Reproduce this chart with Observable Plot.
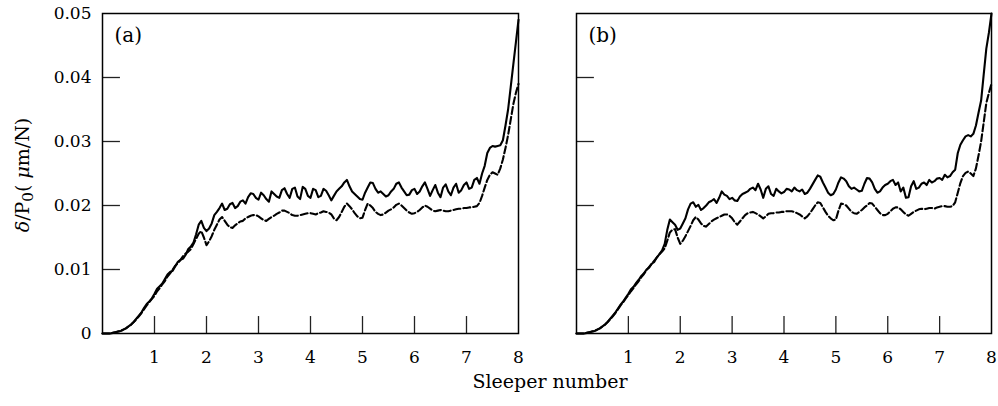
<!DOCTYPE html>
<html><head><meta charset="utf-8">
<script src="https://cdn.jsdelivr.net/npm/d3@7"></script>
<script src="https://cdn.jsdelivr.net/npm/@observablehq/plot@0.6"></script>
<style>
body{margin:0;background:#fff;}
#wrap{position:relative;width:998px;height:406px;font-family:"DejaVu Serif",serif;color:#000;overflow:hidden}
#left{position:absolute;left:0;top:0}
#right{position:absolute;left:540px;top:0}
#xlab{position:absolute;left:450px;width:200px;top:370px;text-align:center;font-size:19px;white-space:nowrap}
#ylab{position:absolute;left:-78px;width:200px;top:163px;line-height:24px;text-align:center;font-size:19px;transform:rotate(-90deg);white-space:nowrap}
#ylab sub{font-size:0.8em;vertical-align:-0.25em;line-height:0}
</style>
</head><body>
<div id="wrap">
  <div id="left"></div>
  <div id="right"></div>
  <div id="ylab"><i>δ</i>/P<sub>0</sub>( <i>μ</i>m/N)</div>
  <div id="xlab">Sleeper number</div>
</div>
<script>
const sleeper = [
  0,0.05,0.1,0.15,0.2,0.25,0.3,0.35,0.4,0.45,
  0.5,0.55,0.6,0.65,0.7,0.75,0.8,0.85,0.9,0.95,
  1,1.05,1.1,1.15,1.2,1.25,1.3,1.35,1.4,1.45,
  1.5,1.55,1.6,1.65,1.7,1.75,1.8,1.85,1.9,1.95,
  2,2.05,2.1,2.15,2.2,2.25,2.3,2.35,2.4,2.45,
  2.5,2.55,2.6,2.65,2.7,2.75,2.8,2.85,2.9,2.95,
  3,3.05,3.1,3.15,3.2,3.25,3.3,3.35,3.4,3.45,
  3.5,3.55,3.6,3.65,3.7,3.75,3.8,3.85,3.9,3.95,
  4,4.05,4.1,4.15,4.2,4.25,4.3,4.35,4.4,4.45,
  4.5,4.55,4.6,4.65,4.7,4.75,4.8,4.85,4.9,4.95,
  5,5.05,5.1,5.15,5.2,5.25,5.3,5.35,5.4,5.45,
  5.5,5.55,5.6,5.65,5.7,5.75,5.8,5.85,5.9,5.95,
  6,6.05,6.1,6.15,6.2,6.25,6.3,6.35,6.4,6.45,
  6.5,6.55,6.6,6.65,6.7,6.75,6.8,6.85,6.9,6.95,
  7,7.05,7.1,7.15,7.2,7.25,7.3,7.35,7.4,7.45,
  7.5,7.55,7.6,7.65,7.7,7.75,7.8,7.85,7.9,7.95,
  8];

const aSolid = [
  0,0,0,0,0.0001,0.0002,0.0003,0.0004,0.0006,0.0008,
  0.0011,0.0014,0.0018,0.0023,0.0028,0.0033,0.0040,0.0046,0.0050,0.0055,
  0.0062,0.0070,0.0074,0.0078,0.0085,0.0092,0.0096,0.0098,0.0105,0.0112,
  0.0115,0.0117,0.0123,0.0132,0.0136,0.0142,0.0155,0.0170,0.0176,0.0165,
  0.0160,0.0164,0.0172,0.0185,0.0190,0.0196,0.0203,0.0193,0.0195,0.0202,
  0.0204,0.0196,0.0199,0.0206,0.0208,0.0203,0.0213,0.0219,0.0218,0.0212,
  0.0209,0.0220,0.0216,0.0210,0.0206,0.0222,0.0218,0.0214,0.0212,0.0224,
  0.0227,0.0218,0.0212,0.0226,0.0228,0.0214,0.0210,0.0229,0.0226,0.0215,
  0.0212,0.0226,0.0224,0.0213,0.0215,0.0226,0.0223,0.0216,0.0208,0.0215,
  0.0222,0.0226,0.0230,0.0236,0.0240,0.0230,0.0222,0.0218,0.0214,0.0210,
  0.0209,0.0220,0.0228,0.0236,0.0235,0.0226,0.0220,0.0222,0.0218,0.0214,
  0.0216,0.0222,0.0226,0.0234,0.0236,0.0228,0.0222,0.0216,0.0217,0.0224,
  0.0226,0.0218,0.0222,0.0230,0.0236,0.0226,0.0215,0.0224,0.0232,0.0220,
  0.0213,0.0228,0.0233,0.0222,0.0216,0.0228,0.0234,0.0220,0.0224,0.0232,
  0.0236,0.0226,0.0228,0.0240,0.0243,0.0234,0.0250,0.0262,0.0282,0.0290,
  0.0293,0.0292,0.0293,0.0294,0.0302,0.0325,0.0350,0.0385,0.0420,0.0455,
  0.0490];

const aDashed = [
  0,0,0,0,0.0001,0.0002,0.0003,0.0004,0.0006,0.0008,
  0.0011,0.0014,0.0018,0.0022,0.0027,0.0032,0.0038,0.0044,0.0049,0.0054,
  0.0059,0.0066,0.0071,0.0077,0.0082,0.0089,0.0094,0.0100,0.0106,0.0110,
  0.0115,0.0121,0.0125,0.0128,0.0132,0.0140,0.0148,0.0156,0.0160,0.0150,
  0.0138,0.0144,0.0152,0.0162,0.0170,0.0178,0.0182,0.0176,0.0170,0.0166,
  0.0165,0.0169,0.0172,0.0175,0.0176,0.0180,0.0182,0.0184,0.0185,0.0185,
  0.0183,0.0180,0.0177,0.0176,0.0179,0.0182,0.0184,0.0187,0.0189,0.0192,
  0.0192,0.0190,0.0188,0.0185,0.0184,0.0184,0.0185,0.0186,0.0187,0.0188,
  0.0188,0.0187,0.0186,0.0188,0.0189,0.0191,0.0190,0.0189,0.0186,0.0180,
  0.0177,0.0182,0.0190,0.0198,0.0203,0.0199,0.0194,0.0188,0.0183,0.0180,
  0.0181,0.0193,0.0203,0.0200,0.0196,0.0190,0.0187,0.0185,0.0186,0.0189,
  0.0192,0.0194,0.0197,0.0201,0.0203,0.0200,0.0196,0.0192,0.0189,0.0187,
  0.0188,0.0190,0.0193,0.0197,0.0200,0.0198,0.0195,0.0192,0.0191,0.0192,
  0.0193,0.0192,0.0191,0.0191,0.0192,0.0193,0.0194,0.0195,0.0195,0.0196,
  0.0196,0.0197,0.0197,0.0198,0.0199,0.0204,0.0215,0.0228,0.0240,0.0248,
  0.0252,0.0250,0.0248,0.0258,0.0272,0.0290,0.0310,0.0334,0.0358,0.0376,
  0.0390];

const bSolid = [
  0,0,0,0,0.0001,0.0002,0.0003,0.0004,0.0006,0.0008,
  0.0011,0.0014,0.0018,0.0023,0.0028,0.0033,0.0039,0.0045,0.0050,0.0056,
  0.0062,0.0069,0.0073,0.0079,0.0084,0.0090,0.0094,0.0100,0.0103,0.0109,
  0.0112,0.0119,0.0124,0.0130,0.0140,0.0162,0.0178,0.0174,0.0170,0.0162,
  0.0164,0.0172,0.0180,0.0194,0.0203,0.0205,0.0198,0.0201,0.0193,0.0196,
  0.0200,0.0205,0.0207,0.0210,0.0204,0.0212,0.0222,0.0217,0.0215,0.0210,
  0.0212,0.0208,0.0207,0.0214,0.0218,0.0220,0.0222,0.0226,0.0228,0.0224,
  0.0234,0.0225,0.0212,0.0226,0.0230,0.0218,0.0215,0.0226,0.0222,0.0219,
  0.0221,0.0226,0.0225,0.0222,0.0228,0.0224,0.0222,0.0225,0.0218,0.0220,
  0.0226,0.0233,0.0240,0.0247,0.0245,0.0236,0.0228,0.0220,0.0216,0.0218,
  0.0225,0.0236,0.0244,0.0242,0.0238,0.0230,0.0226,0.0228,0.0225,0.0222,
  0.0223,0.0234,0.0243,0.0242,0.0236,0.0226,0.0220,0.0222,0.0228,0.0232,
  0.0234,0.0238,0.0240,0.0232,0.0236,0.0222,0.0228,0.0212,0.0213,0.0230,
  0.0238,0.0226,0.0228,0.0234,0.0236,0.0232,0.0240,0.0236,0.0238,0.0242,
  0.0243,0.0240,0.0248,0.0244,0.0246,0.0252,0.0256,0.0282,0.0295,0.0302,
  0.0308,0.0310,0.0308,0.0312,0.0325,0.0345,0.0364,0.0405,0.0445,0.0470,
  0.0500];

const bDashed = [
  0,0,0,0,0.0001,0.0002,0.0003,0.0004,0.0006,0.0008,
  0.0011,0.0014,0.0018,0.0022,0.0027,0.0032,0.0038,0.0044,0.0049,0.0055,
  0.0060,0.0066,0.0071,0.0077,0.0082,0.0088,0.0093,0.0099,0.0104,0.0109,
  0.0114,0.0119,0.0124,0.0128,0.0133,0.0145,0.0158,0.0162,0.0163,0.0150,
  0.0140,0.0145,0.0152,0.0160,0.0168,0.0177,0.0182,0.0178,0.0172,0.0168,
  0.0167,0.0171,0.0175,0.0178,0.0180,0.0182,0.0184,0.0186,0.0186,0.0184,
  0.0180,0.0174,0.0170,0.0175,0.0180,0.0185,0.0188,0.0189,0.0190,0.0188,
  0.0186,0.0183,0.0180,0.0183,0.0187,0.0188,0.0188,0.0189,0.0189,0.0190,
  0.0190,0.0191,0.0191,0.0191,0.0190,0.0188,0.0186,0.0183,0.0180,0.0183,
  0.0188,0.0194,0.0200,0.0205,0.0204,0.0197,0.0190,0.0184,0.0180,0.0177,
  0.0178,0.0192,0.0203,0.0202,0.0200,0.0195,0.0190,0.0188,0.0187,0.0190,
  0.0193,0.0197,0.0200,0.0204,0.0203,0.0198,0.0193,0.0188,0.0185,0.0185,
  0.0187,0.0191,0.0195,0.0197,0.0197,0.0194,0.0190,0.0186,0.0184,0.0187,
  0.0190,0.0192,0.0194,0.0195,0.0194,0.0195,0.0196,0.0196,0.0195,0.0197,
  0.0198,0.0199,0.0199,0.0198,0.0198,0.0199,0.0205,0.0220,0.0235,0.0246,
  0.0251,0.0253,0.0250,0.0246,0.0258,0.0278,0.0300,0.0330,0.0360,0.0376,
  0.0390];

const xTicks = [1,2,3,4,5,6,7,8];
const yTicks = [0,0.01,0.02,0.03,0.04,0.05];
const yTickLabels = ["0","0.01","0.02","0.03","0.04","0.05"];

function panel(solid, dashed, label, showY, marginLeft, width, marginRight) {
  const data = sleeper.map((x, i) => ({x, s: solid[i], d: dashed[i]}));
  const marks = [
    Plot.ruleY(yTicks.slice(1, 5), {y: d => d, x1: 0, x2: 0.345, stroke: "#222", strokeWidth: 1.3}),
    Plot.ruleX(xTicks.slice(0, 7), {x: d => d, y1: 0, y2: 0.00265, stroke: "#222", strokeWidth: 1.3}),
    Plot.line(data, {x: "x", y: "d", stroke: "black", strokeWidth: 2.1, strokeDasharray: "7,3"}),
    Plot.line(data, {x: "x", y: "s", stroke: "black", strokeWidth: 2.1}),
    Plot.frame({stroke: "black", strokeWidth: 1.5}),
    Plot.text(xTicks, {x: d => d, y: 0, dy: 24, text: d => String(d), fontSize: 17, fill: "black"}),
    Plot.text([label], {frameAnchor: "top-left", dx: 12, dy: 14, fontSize: 20, fill: "black"})
  ];
  if (showY) {
    marks.push(Plot.text(yTicks, {x: 0, y: d => d, dx: -11, textAnchor: "end", text: (d, i) => yTickLabels[i], fontSize: 17, fill: "black"}));
  }
  return Plot.plot({
    width, height: 366, marginLeft, marginRight, marginTop: 13, marginBottom: 33,
    x: {domain: [0, 8], axis: null},
    y: {domain: [0, 0.05], axis: null},
    style: {fontFamily: "DejaVu Serif", background: "white", overflow: "visible"},
    marks
  });
}

document.getElementById("left").append(panel(aSolid, aDashed, "(a)", true, 102, 532, 14));
document.getElementById("right").append(panel(bSolid, bDashed, "(b)", false, 36, 458, 7));
</script>
</body></html>
